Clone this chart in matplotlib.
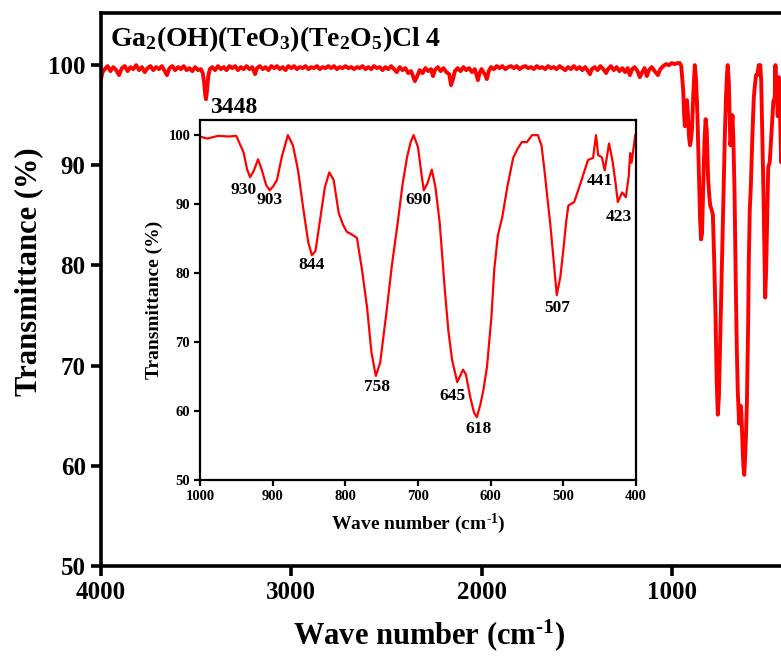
import numpy as np
import matplotlib
matplotlib.use("Agg")
import matplotlib.pyplot as plt

plt.rcParams['font.family'] = ['Liberation Serif', 'DejaVu Serif']
plt.rcParams['font.weight'] = 'bold'
plt.rcParams['mathtext.fontset'] = 'custom'
plt.rcParams['mathtext.rm'] = 'Liberation Serif:bold'
plt.rcParams['mathtext.it'] = 'Liberation Serif:bold'
plt.rcParams['mathtext.bf'] = 'Liberation Serif:bold'

# mid-IR part (4000 - 950 cm-1)
wn_high = [4000, 3992, 3980, 3965, 3950, 3935, 3920, 3905, 3890, 3875, 3860, 3845, 3830, 3815,
           3800, 3785, 3770, 3755, 3740, 3725, 3710, 3695, 3680, 3665, 3653, 3640, 3625, 3610,
           3595, 3580, 3565, 3550, 3535, 3520, 3505, 3490, 3475, 3465, 3458, 3452, 3448, 3443,
           3436, 3428, 3415, 3400, 3385, 3370, 3355, 3340, 3325, 3310, 3295, 3280, 3265, 3250,
           3235, 3220, 3205, 3190, 3180, 3165, 3150, 3135, 3120, 3105, 3090, 3075, 3060, 3045,
           3030, 3015, 3000, 2985, 2970, 2955, 2940, 2925, 2910, 2895, 2880, 2865, 2850, 2835,
           2820, 2805, 2790, 2775, 2760, 2745, 2730, 2715, 2700, 2685, 2670, 2655, 2640, 2625,
           2610, 2595, 2580, 2565, 2550, 2535, 2520, 2505, 2490, 2475, 2460, 2445, 2430, 2415,
           2400, 2385, 2370, 2360, 2350, 2340, 2325, 2310, 2295, 2280, 2265, 2255, 2245, 2230,
           2215, 2200, 2185, 2170, 2160, 2150, 2140, 2125, 2110, 2095, 2080, 2065, 2050, 2035,
           2025, 2019, 2010, 2000, 1990, 1980, 1972, 1962, 1950, 1935, 1920, 1905, 1890, 1875,
           1860, 1845, 1830, 1815, 1800, 1785, 1770, 1755, 1740, 1725, 1710, 1695, 1680, 1665,
           1650, 1635, 1620, 1605, 1590, 1575, 1560, 1545, 1530, 1515, 1500, 1485, 1470, 1455,
           1440, 1430, 1420, 1405, 1390, 1375, 1360, 1345, 1335, 1320, 1305, 1290, 1275, 1260,
           1245, 1232, 1220, 1208, 1195, 1180, 1168, 1155, 1143, 1131, 1120, 1105, 1090, 1073,
           1060, 1045, 1030, 1015, 1000, 985, 970, 958]
t_high = [98.6, 99.3, 99.6, 99.9, 99.4, 99.8, 99.5, 99.0, 99.7, 99.9, 99.4, 99.8, 99.6, 100.0,
          99.5, 99.8, 99.3, 99.7, 99.9, 99.5, 99.8, 99.6, 99.9, 99.4, 99.0, 99.7, 99.9, 99.5,
          99.8, 99.6, 99.9, 99.5, 99.7, 99.4, 99.8, 99.5, 99.6, 99.2, 98.3, 97.0, 96.6, 97.4,
          98.9, 99.6, 99.8, 99.5, 99.9, 99.6, 99.8, 99.5, 99.9, 99.7, 99.9, 99.5, 99.8, 99.6,
          99.9, 99.6, 99.8, 99.1, 99.7, 99.9, 99.6, 99.8, 99.5, 99.9, 99.7, 99.9, 99.6, 99.8,
          99.5, 99.9, 99.7, 99.9, 99.6, 99.8, 99.7, 99.9, 99.6, 99.8, 99.7, 99.9, 99.6, 99.8,
          99.7, 99.9, 99.7, 99.9, 99.6, 99.8, 99.7, 99.9, 99.7, 99.8, 99.6, 99.8, 99.7, 99.9,
          99.6, 99.8, 99.6, 99.9, 99.7, 99.8, 99.5, 99.8, 99.6, 99.9, 99.6, 99.3, 99.8, 99.5,
          99.7, 99.2, 99.4, 98.9, 98.4, 98.8, 99.5, 99.2, 99.7, 99.4, 99.6, 98.9, 99.5, 99.8,
          99.4, 99.7, 99.3, 99.1, 98.0, 98.6, 99.4, 99.7, 99.4, 99.8, 99.5, 99.7, 99.3, 99.6,
          98.9, 98.5, 99.2, 99.6, 99.3, 99.0, 98.6, 99.4, 99.8, 99.6, 99.9, 99.7, 99.9, 99.6,
          99.8, 99.9, 99.7, 99.9, 99.6, 99.8, 99.9, 99.7, 99.8, 99.6, 99.9, 99.7, 99.8, 99.6,
          99.9, 99.7, 99.8, 99.6, 99.9, 99.7, 99.5, 99.8, 99.6, 99.9, 99.6, 99.8, 99.5, 99.8,
          99.4, 99.1, 99.6, 99.8, 99.5, 99.9, 99.6, 99.2, 99.6, 99.9, 99.5, 99.8, 99.4, 99.7,
          99.3, 99.7, 99.0, 99.6, 99.8, 99.4, 98.8, 99.3, 99.7, 98.9, 99.5, 99.8, 99.4, 99.0,
          99.6, 99.9, 100.1, 100.0, 100.2, 100.1, 100.2, 100.2]

# far-IR part (1000 - 400 cm-1)
wn_low = [1000, 990, 975, 960, 950, 940, 935, 931, 926, 920, 915, 909, 904, 899, 894, 887, 879,
          872, 865, 858, 851, 846, 841, 835, 828, 822, 816, 809, 803, 798, 791, 784, 777, 770,
          764, 758, 752, 743, 736, 728, 721, 715, 710, 706, 700, 696, 692, 687, 681, 676, 670,
          663, 658, 653, 646, 641, 638, 634, 628, 623, 619, 614, 610, 605, 599, 595, 590, 584,
          577, 569, 563, 557, 550, 543, 535, 530, 526, 522, 518, 513, 509, 504, 500, 496, 493,
          485, 477, 466, 459, 455, 452, 447, 443, 437, 432, 428, 425, 419, 414, 410, 408, 406,
          401]
t_low = [99.8, 99.5, 99.9, 99.8, 99.9, 97.5, 95.0, 93.9, 94.8, 96.5, 95.0, 92.8, 92.0, 92.6,
         93.5, 97.0, 100.0, 98.5, 94.9, 89.5, 84.5, 82.6, 83.2, 87.5, 92.5, 94.6, 93.5, 88.7,
         87.0, 86.0, 85.6, 85.1, 80.5, 75.0, 68.5, 65.1, 67.0, 74.6, 81.0, 87.2, 93.0, 96.8,
         99.0, 100.0, 98.3, 95.0, 92.0, 93.0, 95.0, 92.5, 87.2, 77.5, 71.5, 67.4, 64.2, 65.3,
         66.0, 65.3, 62.0, 59.8, 59.1, 61.0, 63.0, 66.4, 73.5, 80.5, 85.5, 88.1, 92.5, 96.7,
         98.0, 99.0, 99.0, 100.0, 100.0, 98.5, 95.0, 91.0, 87.2, 81.5, 76.8, 79.5, 83.3, 87.5,
         89.8, 90.3, 92.8, 96.4, 96.7, 100.0, 97.1, 96.8, 94.9, 98.8, 96.1, 93.0, 90.3, 91.7,
         91.0, 94.0, 97.4, 96.0, 100.0]

peak_labels = ['930', '903', '844', '690', '758', '645', '618', '507', '441', '423']
label_x = [940, 904, 846, 699, 756, 652, 616, 509, 450, 423]
label_y = [92.0, 90.6, 81.2, 90.6, 63.5, 62.2, 57.4, 74.9, 93.3, 88.1]

# main spectrum: mid-IR part plus far-IR part below 950
wn_all = wn_high + wn_low[4:]
t_all = t_high + t_low[4:]

xlab = 'Wave number (cm$^{\u20101}$)'

fig = plt.figure(figsize=(7.81, 6.57), dpi=100)
ax = fig.add_axes([0.1293, 0.1385, 0.877, 0.8417])
ax.plot(wn_all, t_all, color='#ff0000', lw=2.8)
ax.set_xlim(4000, 400)
ax.set_ylim(50, 105.2)
ax.set_xticks([4000, 3000, 2000, 1000])
ax.set_yticks([50, 60, 70, 80, 90, 100])
for s in ax.spines.values():
    s.set_linewidth(2.6)
ax.tick_params(direction='out', length=7, width=2.6, labelsize=18, pad=4)
ax.set_xlabel(xlab, fontsize=22, fontweight='bold')
ax.set_ylabel('Transmittance (%)', fontsize=22, fontweight='bold')
ax.xaxis.set_label_coords(0.479, -0.092)
ax.yaxis.set_label_coords(-0.085, 0.532)
ax.text(3953, 102.6, 'Ga$_2$(OH)(TeO$_3$)(Te$_2$O$_5$)Cl 4', fontsize=20,
        fontweight='bold', ha='left', va='center')
ax.text(3428, 95.8, '3448', fontsize=17, fontweight='bold', ha='left', va='center')

ins = fig.add_axes([0.256, 0.2694, 0.5583, 0.548])
ins.plot(wn_low, t_low, color='#ff0000', lw=1.6)
ins.set_xlim(1000, 400)
ins.set_ylim(50, 102.2)
ins.set_xticks([1000, 900, 800, 700, 600, 500, 400])
ins.set_yticks([50, 60, 70, 80, 90, 100])
for s in ins.spines.values():
    s.set_linewidth(1.6)
ins.tick_params(direction='out', length=4, width=1.6, labelsize=10.5, pad=3)
ins.set_xlabel(xlab, fontsize=14, fontweight='bold')
ins.set_ylabel('Transmittance (%)', fontsize=14, fontweight='bold')
ins.xaxis.set_label_coords(0.5, -0.088)
ins.yaxis.set_label_coords(-0.085, 0.5)
for lab, x, y in zip(peak_labels, label_x, label_y):
    ins.text(x, y, lab, fontsize=12.5, fontweight='bold', ha='center', va='center')

fig.savefig('out.png', dpi=100)
